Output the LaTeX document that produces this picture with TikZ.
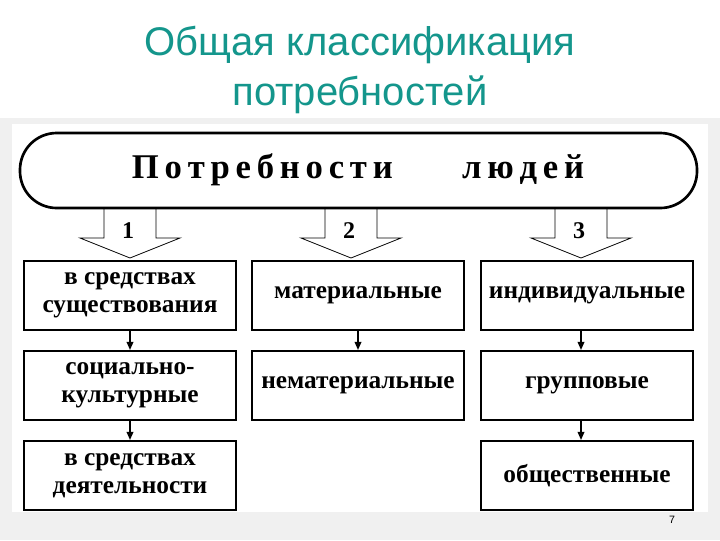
\documentclass[tikz,border=0pt]{standalone}
\usepackage{fontspec}
\setmainfont{Liberation Serif}
\newfontfamily\titlefont{Liberation Sans}
\usetikzlibrary{arrows.meta}
\definecolor{teal1}{RGB}{20,150,140}
\tikzset{
  bx/.style={draw, line width=1.6pt, fill=white, align=center, font=\bfseries\fontsize{19}{21}\selectfont, inner sep=0pt, minimum width=212*0.75pt, minimum height=69*0.75pt},
  ar/.style={line width=1pt, -{Triangle[length=6pt,width=5pt]}},
  bigar/.style={draw, line width=0.6pt, fill=white}
}
\begin{document}
\begin{tikzpicture}[x=0.75pt,y=-0.75pt]
\useasboundingbox (0,0) rectangle (720,540);
\fill[gray!12] (0,0) rectangle (720,540);
\fill[white] (0,0) rectangle (720,118);
\fill[white] (12,124) rectangle (708,512);
\node[text=teal1, font=\titlefont\fontsize{30}{37.5}\selectfont, align=center] (title) at (360,70) {Общая классификация\\потребностей};
% arrows
\foreach \cx/\n in {130/1,351/2,581/3}{
  \draw[bigar] (\cx-26,200) -- (\cx-26,238) -- (\cx-50,238) -- (\cx,258) -- (\cx+50,238) -- (\cx+26,238) -- (\cx+26,200);
  \node[font=\bfseries\fontsize{18}{20}\selectfont] (n\n) at (\cx-2,231) {\n};
}
\draw[line width=2pt, fill=white, rounded corners=27.5pt] (20,133) rectangle (697,208);
\node[font=\bfseries\fontsize{26}{28}\selectfont] (top) at (358,170) {П\,о\,т\,р\,е\,б\,н\,о\,с\,т\,и\qquad л\,ю\,д\,е\,й};
% boxes
\node[bx] (a1) at (130,295.5) {в средствах\\существования};
\node[bx] (a2) at (130,385.5) {социально-\\культурные};
\node[bx] (a3) at (130,475.5) {в средствах\\деятельности};
\node[bx] (b1) at (358,295.5) {материальные};
\node[bx] (b2) at (358,385.5) {нематериальные};
\node[bx] (c1) at (587,295.5) {индивидуальные};
\node[bx] (c2) at (587,385.5) {групповые};
\node[bx] (c3) at (587,475.5) {общественные};
\draw[ar] (a1) -- (a2);
\draw[ar] (a2) -- (a3);
\draw[ar] (b1) -- (b2);
\draw[ar] (c1.south) ++(-6,0) coordinate (c1s) -- (c1s |- c2.north);
\draw[ar] (c2.south) ++(-6,0) coordinate (c2s) -- (c2s |- c3.north);
\node[font=\titlefont\fontsize{8}{9}\selectfont] (pg) at (672,520) {7};
\end{tikzpicture}
\end{document}
